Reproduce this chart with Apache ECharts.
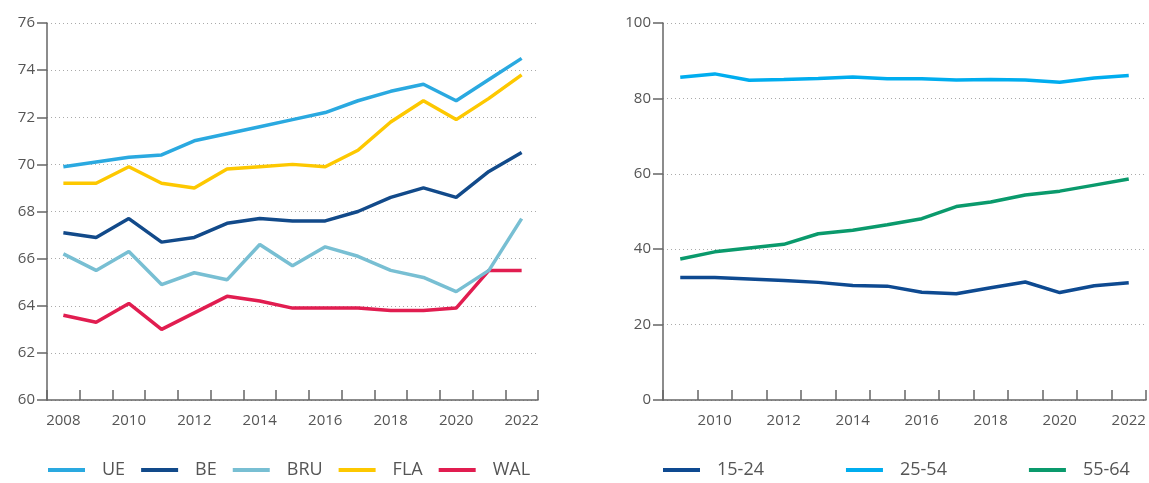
<!DOCTYPE html>
<html>
<head>
<meta charset="utf-8">
<script src="https://cdn.jsdelivr.net/npm/echarts@6/dist/echarts.min.js"></script>
<style>
  html, body { margin: 0; padding: 0; background: #fff; }
  #main { width: 1149px; height: 483px; }
</style>
</head>
<body>
<div id="main"></div>
<script>
// left chart: regions
var yearsLeft = ['2008','2009','2010','2011','2012','2013','2014','2015','2016','2017','2018','2019','2020','2021','2022'];
var ue  = [69.9, 70.1, 70.3, 70.4, 71.0, 71.3, 71.6, 71.9, 72.2, 72.7, 73.1, 73.4, 72.7, 73.6, 74.5];
var be  = [67.1, 66.9, 67.7, 66.7, 66.9, 67.5, 67.7, 67.6, 67.6, 68.0, 68.6, 69.0, 68.6, 69.7, 70.5];
var bru = [66.2, 65.5, 66.3, 64.9, 65.4, 65.1, 66.6, 65.7, 66.5, 66.1, 65.5, 65.2, 64.6, 65.5, 67.7];
var fla = [69.2, 69.2, 69.9, 69.2, 69.0, 69.8, 69.9, 70.0, 69.9, 70.6, 71.8, 72.7, 71.9, 72.8, 73.8];
var wal = [63.6, 63.3, 64.1, 63.0, 63.7, 64.4, 64.2, 63.9, 63.9, 63.9, 63.8, 63.8, 63.9, 65.5, 65.5];

// right chart: age groups
var yearsRight = ['2009','2010','2011','2012','2013','2014','2015','2016','2017','2018','2019','2020','2021','2022'];
var age1524 = [32.5, 32.5, 32.1, 31.7, 31.2, 30.4, 30.2, 28.6, 28.2, 29.8, 31.3, 28.5, 30.3, 31.1];
var age2554 = [85.6, 86.5, 84.8, 85.0, 85.3, 85.7, 85.2, 85.2, 84.9, 85.0, 84.9, 84.3, 85.4, 86.1];
var age5564 = [37.4, 39.3, 40.3, 41.3, 44.1, 45.0, 46.5, 48.1, 51.3, 52.5, 54.4, 55.4, 57.0, 58.6];

var FONT = '"Open Sans", sans-serif';
var labelColor = '#555';
var axisColor = '#666';

function catAxis(grid, data, labelInterval) {
    return {
        type: 'category',
        gridIndex: grid,
        data: data,
        boundaryGap: true,
        axisLine: { lineStyle: { color: axisColor, width: 1.5 } },
        axisTick: { show: true, inside: true, length: 10, interval: 0, lineStyle: { color: axisColor, width: 1.5 } },
        axisLabel: { interval: labelInterval, margin: 13, color: labelColor, fontSize: 15, fontFamily: FONT },
        splitLine: { show: false }
    };
}

function valAxis(grid, min, max, step) {
    return {
        type: 'value',
        gridIndex: grid,
        min: min, max: max, interval: step,
        axisLine: { show: true, lineStyle: { color: axisColor, width: 1.5 } },
        axisTick: { show: true, length: 10, lineStyle: { color: axisColor, width: 1.5 } },
        axisLabel: { margin: 12, color: labelColor, fontSize: 15, fontFamily: FONT },
        splitLine: { show: true, lineStyle: { color: '#aaa', type: [1, 3], width: 1 } }
    };
}

function line(name, data, color, ax) {
    return {
        name: name, type: 'line',
        xAxisIndex: ax, yAxisIndex: ax,
        data: data,
        symbol: 'none',
        lineStyle: { width: 3.5, color: color },
        itemStyle: { color: color }
    };
}

var chart = echarts.init(document.getElementById('main'));

var option = {
    animation: false,
    grid: [
        { left: 47, right: 611, top: 23, bottom: 83 },
        { left: 663, right: 3, top: 23, bottom: 83 }
    ],
    legend: [
        {
            left: 48, top: 461, padding: 0,
            icon: 'rect', itemWidth: 37, itemHeight: 4, itemGap: 16,
            textStyle: { fontSize: 18, color: labelColor, fontFamily: FONT, padding: [0, 0, 0, 12] },
            data: ['UE', 'BE', 'BRU', 'FLA', 'WAL']
        },
        {
            left: 663, top: 461, padding: 0,
            icon: 'rect', itemWidth: 37, itemHeight: 4, itemGap: 82,
            textStyle: { fontSize: 18, color: labelColor, fontFamily: FONT, padding: [0, 0, 0, 12] },
            data: ['15-24', '25-54', '55-64']
        }
    ],
    xAxis: [
        catAxis(0, yearsLeft, 1),
        catAxis(1, yearsRight, function (i, v) { return +v % 2 === 0; })
    ],
    yAxis: [
        valAxis(0, 60, 76, 2),
        valAxis(1, 0, 100, 20)
    ],
    series: [
        line('UE', ue, '#2aa9e0', 0),
        line('BE', be, '#124a8a', 0),
        line('WAL', wal, '#e11d50', 0),
        line('BRU', bru, '#78bfd3', 0),
        line('FLA', fla, '#fdc800', 0),
        line('15-24', age1524, '#0e4a91', 1),
        line('25-54', age2554, '#00adef', 1),
        line('55-64', age5564, '#0a9a6c', 1)
    ]
};

chart.setOption(option);
</script>
</body>
</html>
